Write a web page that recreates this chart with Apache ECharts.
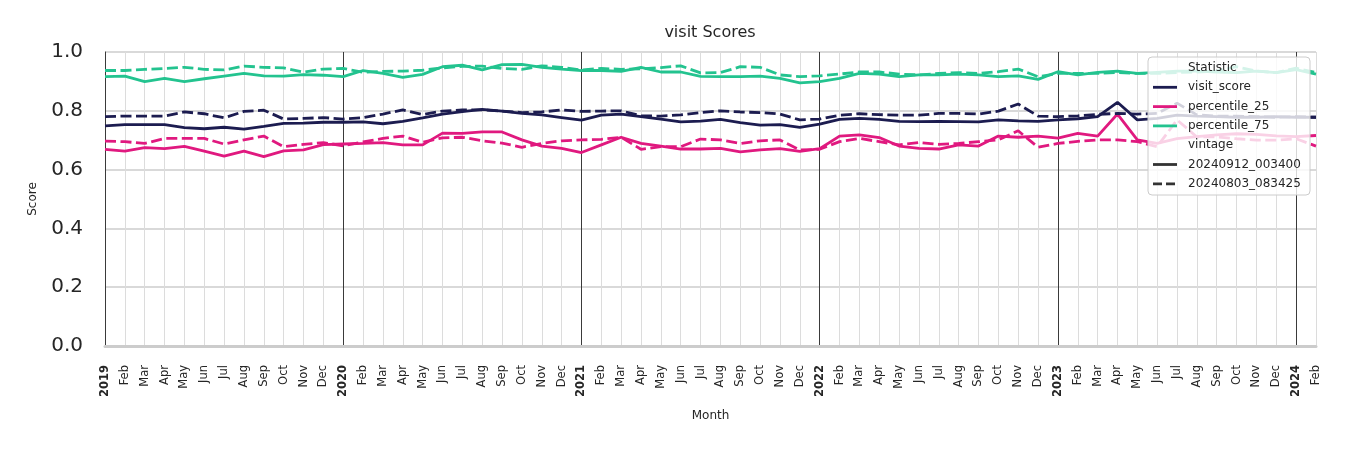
<!DOCTYPE html>
<html><head><meta charset="utf-8">
<script src="https://cdn.jsdelivr.net/npm/echarts@6/dist/echarts.min.js"></script>
<style>html,body{margin:0;padding:0;background:#fff}#c{width:1350px;height:450px}</style>
</head><body><div id="c"></div>
<script>
const categories = ['2019-01','2019-02','2019-03','2019-04','2019-05','2019-06','2019-07','2019-08','2019-09','2019-10','2019-11','2019-12',
'2020-01','2020-02','2020-03','2020-04','2020-05','2020-06','2020-07','2020-08','2020-09','2020-10','2020-11','2020-12',
'2021-01','2021-02','2021-03','2021-04','2021-05','2021-06','2021-07','2021-08','2021-09','2021-10','2021-11','2021-12',
'2022-01','2022-02','2022-03','2022-04','2022-05','2022-06','2022-07','2022-08','2022-09','2022-10','2022-11','2022-12',
'2023-01','2023-02','2023-03','2023-04','2023-05','2023-06','2023-07','2023-08','2023-09','2023-10','2023-11','2023-12',
'2024-01','2024-02'];
const tickLabels = ['2019','Feb','Mar','Apr','May','Jun','Jul','Aug','Sep','Oct','Nov','Dec',
'2020','Feb','Mar','Apr','May','Jun','Jul','Aug','Sep','Oct','Nov','Dec',
'2021','Feb','Mar','Apr','May','Jun','Jul','Aug','Sep','Oct','Nov','Dec',
'2022','Feb','Mar','Apr','May','Jun','Jul','Aug','Sep','Oct','Nov','Dec',
'2023','Feb','Mar','Apr','May','Jun','Jul','Aug','Sep','Oct','Nov','Dec',
'2024','Feb'];
const yTicks = [0, 0.2, 0.4, 0.6, 0.8, 1.0];

// vintage 20240912_003400 (solid)
const visitScoreA = [0.749,0.753,0.753,0.753,0.743,0.739,0.744,0.738,0.747,0.757,0.758,0.761,
0.761,0.762,0.756,0.764,0.776,0.789,0.797,0.805,0.799,0.791,0.786,0.777,
0.768,0.785,0.789,0.780,0.772,0.762,0.765,0.771,0.760,0.751,0.753,0.744,
0.755,0.771,0.774,0.771,0.764,0.763,0.764,0.763,0.762,0.769,0.766,0.764,
0.769,0.773,0.780,0.829,0.769,0.774,0.785,0.782,0.780,0.778,0.778,0.780,
0.778,0.778];
const p25A = [0.669,0.663,0.675,0.671,0.679,0.663,0.646,0.663,0.644,0.664,0.667,0.685,
0.687,0.689,0.692,0.684,0.684,0.724,0.723,0.728,0.728,0.701,0.680,0.672,
0.658,0.684,0.710,0.689,0.680,0.670,0.670,0.672,0.660,0.667,0.671,0.662,
0.671,0.714,0.718,0.709,0.680,0.672,0.670,0.684,0.680,0.714,0.710,0.714,
0.707,0.723,0.714,0.789,0.701,0.689,0.705,0.712,0.718,0.722,0.720,0.715,
0.712,0.716];
const p75A = [0.916,0.918,0.899,0.910,0.899,0.909,0.918,0.927,0.919,0.918,0.923,0.921,
0.916,0.937,0.927,0.914,0.924,0.950,0.955,0.939,0.957,0.958,0.948,0.942,
0.937,0.937,0.934,0.948,0.932,0.932,0.917,0.916,0.916,0.918,0.910,0.895,
0.899,0.910,0.927,0.925,0.916,0.922,0.922,0.925,0.922,0.916,0.919,0.907,
0.933,0.922,0.931,0.935,0.927,0.931,0.935,0.935,0.932,0.930,0.935,0.930,
0.940,0.925];
// vintage 20240803_083425 (dashed)
const visitScoreB = [0.780,0.782,0.782,0.782,0.796,0.790,0.776,0.798,0.802,0.772,0.774,0.777,
0.772,0.777,0.789,0.803,0.787,0.799,0.803,0.803,0.799,0.794,0.796,0.803,
0.798,0.799,0.800,0.783,0.782,0.786,0.794,0.800,0.796,0.794,0.789,0.769,
0.772,0.785,0.790,0.787,0.785,0.785,0.791,0.791,0.789,0.799,0.823,0.782,
0.780,0.783,0.788,0.791,0.789,0.791,0.826,0.786,0.782,0.782,0.780,0.778,
0.780,0.778];
const p25B = [0.697,0.695,0.689,0.706,0.706,0.706,0.687,0.701,0.714,0.678,0.686,0.692,
0.681,0.694,0.706,0.714,0.693,0.708,0.710,0.698,0.690,0.676,0.689,0.698,
0.701,0.703,0.710,0.669,0.678,0.678,0.704,0.701,0.689,0.698,0.701,0.667,
0.669,0.695,0.706,0.695,0.684,0.692,0.686,0.689,0.695,0.701,0.732,0.676,
0.689,0.696,0.701,0.701,0.695,0.678,0.769,0.711,0.711,0.705,0.700,0.700,
0.705,0.680];
const p75B = [0.937,0.937,0.941,0.944,0.948,0.941,0.939,0.952,0.948,0.946,0.931,0.942,
0.944,0.931,0.934,0.935,0.938,0.946,0.951,0.952,0.944,0.941,0.953,0.948,
0.939,0.944,0.941,0.943,0.947,0.953,0.929,0.930,0.950,0.948,0.922,0.916,
0.919,0.925,0.932,0.932,0.925,0.922,0.927,0.930,0.927,0.933,0.942,0.916,
0.927,0.927,0.927,0.930,0.927,0.927,0.930,0.932,0.935,0.950,0.935,0.930,
0.945,0.930];

const statNames = ['visit_score','percentile_25','percentile_75'];
const vintageNames = ['20240912_003400','20240803_083425'];
const colors = {visit_score:'#1c1c50', percentile_25:'#e0197f', percentile_75:'#23c38f'};

const FONT = 'DejaVu Sans';
const TXT = '#262626';

function mkSeries(name, data, dashed) {
  return {
    name: name, type: 'line', data: data, showSymbol: false, symbol: 'none',
    lineStyle: {color: colors[name], width: 2.8, type: dashed ? [11, 4.5] : 'solid', cap: 'butt'},
    itemStyle: {color: colors[name]}, z: 3, silent: true, animation: false
  };
}

const splitColors = tickLabels.map(t => /^\d{4}$/.test(t) ? '#3a3a3a' : '#dcdcdc');

// legend built with graphic elements
const LX = 1148, LY = 57, LW = 162, LH = 138, ROW = 19.3;
const legendRows = [
  {text:'Statistic'},
  {text:statNames[0], color:colors.visit_score},
  {text:statNames[1], color:colors.percentile_25},
  {text:statNames[2], color:colors.percentile_75},
  {text:'vintage'},
  {text:vintageNames[0], color:'#333', dash:false},
  {text:vintageNames[1], color:'#333', dash:true}
];
const legendChildren = [{
  type:'rect', shape:{x:LX, y:LY, width:LW, height:LH, r:4},
  style:{fill:'rgba(255,255,255,0.8)', stroke:'#cccccc', lineWidth:1}, z:100
}];
legendRows.forEach((r, i) => {
  const cy = 68 + i * ROW;
  if (r.color) {
    legendChildren.push({type:'line', shape:{x1:1153, y1:cy, x2:1177, y2:cy},
      style:{stroke:r.color, lineWidth:2.8, lineDash: r.dash ? [9,4] : null}, z:101});
  }
  legendChildren.push({type:'text', style:{x:1188, y:cy, text:r.text, font:'12px "DejaVu Sans"', fill:TXT,
    textAlign:'left', textVerticalAlign:'middle'}, z:101});
});

const chart = echarts.init(document.getElementById('c'), null, {renderer:'canvas'});
chart.setOption({
  animation: false,
  backgroundColor: '#fff',
  textStyle: {fontFamily: FONT},
  title: {text:'visit Scores', left:710, top:25, textAlign:'center', padding:0,
    textStyle:{fontFamily:FONT, fontSize:16, fontWeight:'normal', color:TXT}},
  grid: {left:105, right:34, top:52, bottom:104, containLabel:false},
  xAxis: {
    type:'category', data:categories, boundaryGap:false,
    name:'Month', nameLocation:'middle', nameGap:64,
    nameTextStyle:{fontFamily:FONT, fontSize:12, color:TXT},
    axisLine:{show:true, lineStyle:{color:'#cccccc', width:3}},
    axisTick:{show:false},
    axisLabel:{interval:0, rotate:90, margin:19, fontFamily:FONT, fontSize:11.5, color:TXT,
      formatter:(v, i) => /^\d{4}$/.test(tickLabels[i]) ? '{b|' + tickLabels[i] + '}' : tickLabels[i],
      rich:{b:{fontWeight:'bold', fontFamily:FONT, fontSize:11.5, color:TXT}}},
    splitLine:{show:true, interval:0, lineStyle:{color:splitColors, width:1}}
  },
  yAxis: {
    type:'value', min:0, max:1, interval:0.2,
    name:'Score', nameLocation:'middle', nameGap:66,
    nameTextStyle:{fontFamily:FONT, fontSize:12, color:TXT},
    axisLine:{show:true, lineStyle:{color:'#3a3a3a', width:1}},
    axisTick:{show:false},
    axisLabel:{margin:22, fontFamily:FONT, fontSize:20, color:TXT,
      formatter:v => yTicks.indexOf(Math.round(v*10)/10) >= 0 ? v.toFixed(1) : ''},
    splitLine:{show:true, lineStyle:{color:'#cccccc', width:1.5}}
  },
  series: [
    mkSeries('visit_score', visitScoreA, false),
    mkSeries('percentile_25', p25A, false),
    mkSeries('percentile_75', p75A, false),
    mkSeries('visit_score', visitScoreB, true),
    mkSeries('percentile_25', p25B, true),
    mkSeries('percentile_75', p75B, true)
  ],
  graphic: [{type:'group', children: legendChildren, z:100}]
});
</script>
</body></html>
